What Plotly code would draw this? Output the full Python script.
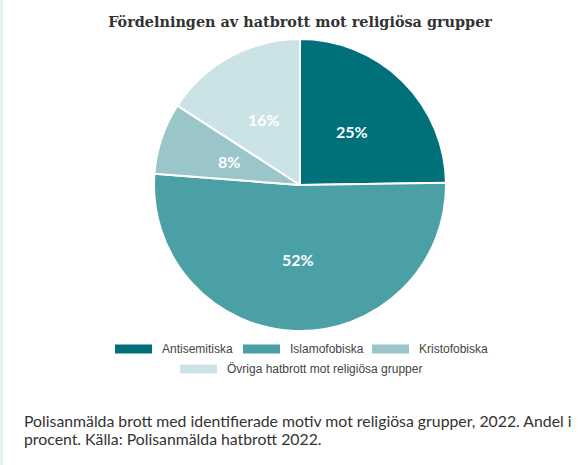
import math
import plotly.graph_objects as go

# data
categories = ["Antisemitiska", "Islamofobiska", "Kristofobiska", "Övriga hatbrott mot religiösa grupper"]
shares = [25, 52, 8, 16]
labels_pct = ["25%", "52%", "8%", "16%"]
colors = ["#00717b", "#4ba0a6", "#9ac6ca", "#cbe3e6"]

title_text = "Fördelningen av hatbrott mot religiösa grupper"
caption_lines = [
    "Polisanmälda brott med identifierade motiv mot religiösa grupper, 2022. Andel i",
    "procent. Källa: Polisanmälda hatbrott 2022.",
]

W, H = 586, 465

# pie placement (pixels)
cx, cy, R = 300, 185, 146

fig = go.Figure()

fig.add_trace(go.Pie(
    labels=categories,
    values=shares,
    textinfo="none",
    marker=dict(colors=colors, line=dict(color="white", width=2)),
    sort=False,
    direction="clockwise",
    rotation=0,
    domain=dict(x=[(cx - R) / W, (cx + R) / W], y=[1 - (cy + R) / H, 1 - (cy - R) / H]),
    showlegend=False,
    hoverinfo="label+percent",
))

annotations = []
shapes = []

# percentage labels at half the radius, at the middle angle of each slice
total = sum(shares)
acc = 0
for val, lab in zip(shares, labels_pct):
    mid = (acc + val / 2) / total * 2 * math.pi
    acc += val
    px_ = cx + 0.51 * R * math.sin(mid)
    py_ = cy - 0.51 * R * math.cos(mid)
    annotations.append(dict(
        text=lab, xref="paper", yref="paper",
        x=px_ / W, y=1 - py_ / H, xanchor="center", yanchor="middle",
        showarrow=False,
        font=dict(family="Lato", size=16, color="white", weight="bold"),
    ))

# custom legend (wide swatches like the original)
legend_rows = [
    [(0, 115), (1, 243), (2, 372)],
    [(3, 180)],
]
row_y = [349, 369]
for r, row in enumerate(legend_rows):
    for idx, x0 in row:
        y = row_y[r]
        shapes.append(dict(
            type="rect", xref="paper", yref="paper",
            x0=x0 / W, x1=(x0 + 37) / W,
            y0=1 - (y + 4.5) / H, y1=1 - (y - 4.5) / H,
            fillcolor=colors[idx], line=dict(width=0),
        ))
        annotations.append(dict(
            text=categories[idx], xref="paper", yref="paper",
            x=(x0 + 45) / W, y=1 - y / H, xanchor="left", yanchor="middle",
            showarrow=False,
            font=dict(family="Liberation Sans, Arial", size=12, color="#444444"),
        ))

# thin left border of the page card
shapes.append(dict(
    type="rect", xref="paper", yref="paper",
    x0=0, x1=3 / W, y0=0, y1=1,
    fillcolor="#e5f0f0", line=dict(width=0),
))

for i, line in enumerate(caption_lines):
    annotations.append(dict(
        text=line, xref="paper", yref="paper",
        x=22 / W, y=1 - (420 + i * 18.5) / H, xanchor="left", yanchor="middle",
        showarrow=False,
        font=dict(family="Lato", size=15.8, color="#333333"),
    ))

fig.update_layout(
    width=W,
    height=H,
    title=dict(
        text=title_text,
        x=0.512, xanchor="center",
        y=1 - 22 / H, yanchor="middle",
        font=dict(family="DejaVu Serif", size=14.4, color="#333333", weight="bold"),
    ),
    margin=dict(l=0, r=0, t=0, b=0),
    paper_bgcolor="white",
    plot_bgcolor="white",
    shapes=shapes,
    annotations=annotations,
)

fig.write_html("out.html", config={"displayModeBar": False},
               post_script="document.body.style.margin='0';")
